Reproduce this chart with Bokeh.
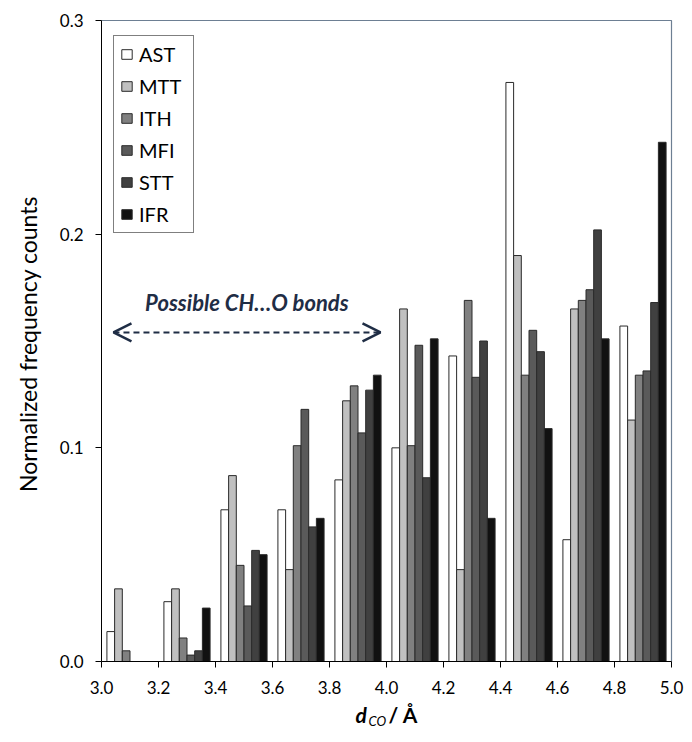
import math
from bokeh.plotting import figure
from bokeh.models import Label, Arrow, OpenHead, FixedTicker, NumeralTickFormatter, Legend
from bokeh.embed import file_html
from bokeh.resources import INLINE

bins = [3.1, 3.3, 3.5, 3.7, 3.9, 4.1, 4.3, 4.5, 4.7, 4.9]
series = ["AST", "MTT", "ITH", "MFI", "STT", "IFR"]
AST = [0.014, 0.028, 0.071, 0.071, 0.085, 0.100, 0.143, 0.271, 0.057, 0.157]
MTT = [0.034, 0.034, 0.087, 0.043, 0.122, 0.165, 0.043, 0.190, 0.165, 0.113]
ITH = [0.005, 0.011, 0.045, 0.101, 0.129, 0.101, 0.169, 0.134, 0.169, 0.134]
MFI = [0.000, 0.003, 0.026, 0.118, 0.107, 0.148, 0.133, 0.155, 0.174, 0.136]
STT = [0.000, 0.005, 0.052, 0.063, 0.127, 0.086, 0.150, 0.145, 0.202, 0.168]
IFR = [0.000, 0.025, 0.050, 0.067, 0.134, 0.151, 0.067, 0.109, 0.151, 0.243]
colors = ["#ffffff", "#c0c0c0", "#808080", "#5a5a5a", "#404040", "#111111"]
x_ticks = [3.0, 3.2, 3.4, 3.6, 3.8, 4.0, 4.2, 4.4, 4.6, 4.8, 5.0]
y_ticks = [0.0, 0.1, 0.2, 0.3]
x_min, x_max = 3.0, 5.0
y_min, y_max = 0.0, 0.3

FONT = "Lato"
NAVY = "#1f2d45"

W, H = 684, 734
# plot area (axes box) in canvas pixels
L, R, T, B = 101, 671, 20, 661
sx = (R - L) / (x_max - x_min)
sy = (B - T) / (y_max - y_min)

# the frame covers the whole canvas; axes are pinned at x=3.0 and y=0
p = figure(width=W, height=H,
           x_range=(x_min - L / sx, x_min + (W - L) / sx),
           y_range=(y_min - (H - B) / sy, y_max + T / sy),
           output_backend="svg", toolbar_location=None,
           min_border_left=0, min_border_right=0, min_border_top=0, min_border_bottom=0)
p.outline_line_color = None
p.xgrid.visible = False
p.ygrid.visible = False

bw = 0.027
data = [AST, MTT, ITH, MFI, STT, IFR]
items = []
for i, (name, vals, col) in enumerate(zip(series, data, colors)):
    xs = [b + (i - 2.5) * bw for b in bins]
    r = p.vbar(x=xs, top=vals, width=bw, fill_color=col, line_color="#2a2a2a", line_width=1)
    items.append((name, [r]))

# top and right border of the plot area
p.line(x=[x_min, x_max, x_max], y=[y_max, y_max, y_min], line_color="#6d7f93", line_width=1.2)

legend = Legend(items=items, location=(113, H - 233),
                glyph_height=12, glyph_width=13, label_height=20, label_width=48,
                spacing=8, padding=6,
                label_text_font=FONT, label_text_font_size="20px", label_standoff=6,
                label_text_color="#000000",
                border_line_color="#000000", border_line_width=1, background_fill_alpha=1)
p.add_layout(legend)

xa = p.xaxis[0]
ya = p.yaxis[0]
xa.fixed_location = y_min
ya.fixed_location = x_min
xa.bounds = (x_min, x_max)
ya.bounds = (y_min, y_max)
xa.ticker = FixedTicker(ticks=x_ticks)
ya.ticker = FixedTicker(ticks=y_ticks)
xa.formatter = NumeralTickFormatter(format="0.0")
ya.formatter = NumeralTickFormatter(format="0.0")
for ax in (xa, ya):
    ax.axis_line_color = "#000000"
    ax.major_tick_line_color = "#000000"
    ax.major_tick_out = 6
    ax.major_tick_in = 0
    ax.minor_tick_line_color = None
    ax.major_label_text_color = "#000000"
    ax.major_label_text_font = FONT
    ax.major_label_text_font_size = "17px"
xa.major_label_standoff = 13
ya.major_label_standoff = 12

# y axis label
p.add_layout(Label(x=x_min - (L - 27) / sx, y=(y_min + y_max) / 2 - 3 / sy,
                   text="Normalized frequency counts", angle=math.pi / 2,
                   text_font=FONT, text_font_size="23px", text_align="center",
                   text_baseline="middle", text_color="#000000"))

# x axis label: d_CO / Å
xc = (x_min + x_max) / 2
yc = y_min - (714 - B) / sy
p.add_layout(Label(x=xc, y=yc, x_offset=-31, text="d", text_font=FONT, text_font_size="21px",
                   text_font_style="bold italic", text_baseline="middle", text_align="left",
                   text_color="#000000"))
p.add_layout(Label(x=xc, y=yc, x_offset=-18, y_offset=-6, text="CO", text_font=FONT,
                   text_font_size="13px", text_font_style="italic", text_baseline="middle",
                   text_align="left", text_color="#000000"))
p.add_layout(Label(x=xc, y=yc, x_offset=2, text="/ Å", text_font=FONT, text_font_size="21px",
                   text_font_style="bold", text_baseline="middle", text_align="left",
                   text_color="#000000"))

# annotation arrow
p.add_layout(Arrow(x_start=3.042, y_start=0.154, x_end=3.979, y_end=0.154,
                   line_color=NAVY, line_width=2, line_dash="6 4",
                   start=OpenHead(size=18, line_color=NAVY, line_width=2.5),
                   end=OpenHead(size=18, line_color=NAVY, line_width=2.5)))
p.add_layout(Label(x=3.51, y=0.168, text="Possible CH…O bonds", text_font=FONT,
                   text_font_size="22px", text_font_style="bold italic",
                   text_color=NAVY, text_align="center", text_baseline="middle"))

open("out.html", "w").write(file_html(p, INLINE))
